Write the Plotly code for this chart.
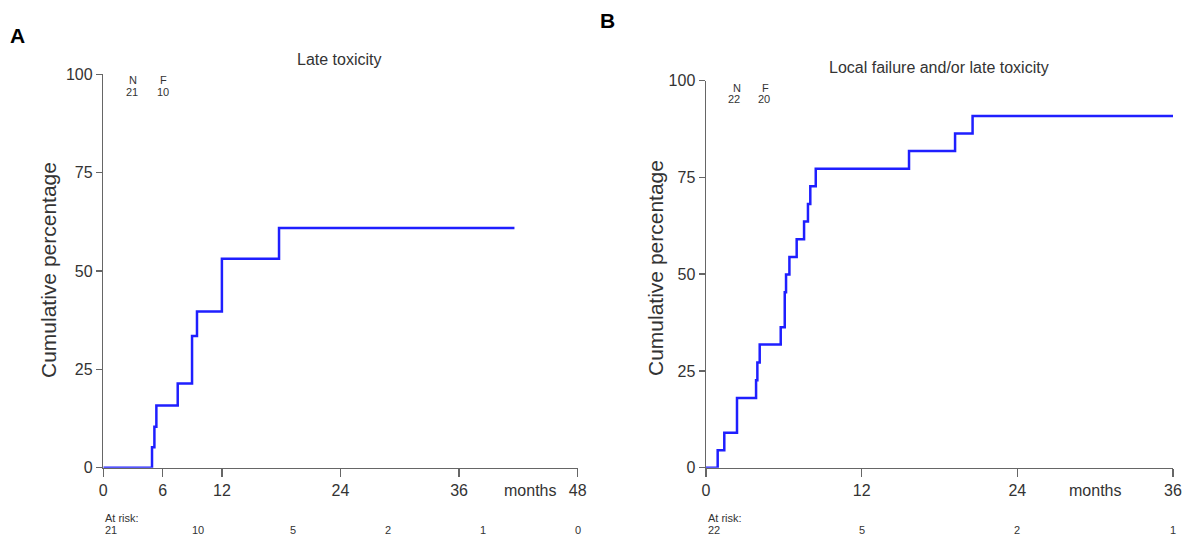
import plotly.graph_objects as go

# ---- Data ----
# Panel A: Late toxicity (months, cumulative %)
a_months = [0, 4.93, 5.17, 5.37, 7.53, 8.98, 9.48, 12.0, 17.78, 41.6]
a_pct = [0, 5.2, 10.4, 15.8, 21.4, 33.5, 39.7, 53.1, 60.9, 60.9]
a_ticks = [0, 6, 12, 24, 36, 48]
a_risk_t = [0, 9.6, 19.2, 28.8, 38.4, 48]
a_risk_n = ["21", "10", "5", "2", "1", "0"]

# Panel B: Local failure and/or late toxicity
b_months = [0, 0.90, 1.41, 2.39, 3.86, 3.96, 4.14, 5.76, 6.07, 6.17, 6.43, 6.99,
            7.56, 7.86, 8.04, 8.46, 15.65, 19.2, 20.55, 36.0]
b_pct = [0, 4.5, 9.0, 18.0, 22.6, 27.2, 31.8, 36.3, 45.3, 49.9, 54.4, 59.0,
         63.6, 68.1, 72.7, 77.2, 81.8, 86.3, 90.8, 90.8]
b_ticks = [0, 12, 24, 36]
b_risk_t = [0, 12, 24, 36]
b_risk_n = ["22", "5", "2", "1"]

y_ticks = [0, 25, 50, 75, 100]

W, H = 1183, 536
FONT = "Liberation Sans, Arial, sans-serif"
TXT = "#333333"
AX = "#666666"
BLUE = "#1f1fff"

def px(x):
    return x / W

def py(y):
    return 1 - y / H

fig = go.Figure()
fig.add_trace(go.Scatter(x=a_months, y=a_pct, mode="lines", line=dict(color=BLUE, width=2.5, shape="hv"),
                         xaxis="x", yaxis="y", showlegend=False, hoverinfo="skip"))
fig.add_trace(go.Scatter(x=b_months, y=b_pct, mode="lines", line=dict(color=BLUE, width=2.5, shape="hv"),
                         xaxis="x2", yaxis="y2", showlegend=False, hoverinfo="skip"))

axis_common = dict(showgrid=False, zeroline=False, showline=True, linecolor=AX, linewidth=1.5,
                   ticks="outside", tickcolor=AX, tickwidth=1.5, automargin=False,
                   tickfont=dict(family=FONT, size=16, color=TXT), fixedrange=True)

fig.update_layout(
    template="none",
    width=W, height=H, autosize=False,
    margin=dict(l=0, r=0, t=0, b=0, pad=0, autoexpand=False),
    paper_bgcolor="white", plot_bgcolor="white",
    xaxis=dict(domain=[px(103.3), px(577.7)], range=[0, 48], tickvals=a_ticks, ticklen=8,
               anchor="y", **axis_common),
    yaxis=dict(domain=[py(467.7), py(74.3)], range=[0, 100], tickvals=y_ticks, ticklen=6,
               anchor="x", **axis_common),
    xaxis2=dict(domain=[px(706), px(1173)], range=[0, 36], tickvals=b_ticks, ticklen=8,
                anchor="y2", **axis_common),
    yaxis2=dict(domain=[py(467.7), py(80.5)], range=[0, 100], tickvals=y_ticks, ticklen=6,
                anchor="x2", **axis_common),
)

ann = []

def add_text(text, x, y, size, xref="paper", yref="paper", xanchor="center", bold=False, angle=0):
    ann.append(dict(text=("<b>%s</b>" % text) if bold else text, x=x, y=y, xref=xref, yref=yref,
                    xanchor=xanchor, yanchor="middle", showarrow=False, textangle=angle,
                    font=dict(family=FONT, size=size, color="black" if bold else TXT)))

# Panel letters
add_text("A", px(17), py(35), 21, bold=True)
add_text("B", px(607), py(20), 21, bold=True)
# Titles
add_text("Late toxicity", px(339), py(60), 16)
add_text("Local failure and/or late toxicity", px(939), py(67), 16)
# Y titles
add_text("Cumulative percentage", px(48), py(270), 21, angle=-90)
add_text("Cumulative percentage", px(655), py(268), 21, angle=-90)
# months labels
add_text("months", 43.2, py(490), 16, xref="x")
add_text("months", 30.0, py(490), 16, xref="x2")
# N / F
add_text("N", px(133.3), py(80), 11)
add_text("21", px(131.7), py(91.7), 11)
add_text("F", px(163.3), py(80), 11)
add_text("10", px(162.7), py(91.7), 11)
add_text("N", px(736.7), py(88), 11)
add_text("22", px(734.3), py(99), 11)
add_text("F", px(765.7), py(88), 11)
add_text("20", px(764.3), py(99), 11)
# At risk
add_text("At risk:", 0, py(518), 11, xref="x", xanchor="left")
for i, (t, n) in enumerate(zip(a_risk_t, a_risk_n)):
    add_text(n, t, py(530), 11, xref="x", xanchor="left" if i == 0 else "center")
add_text("At risk:", 0, py(518), 11, xref="x2", xanchor="left")
for i, (t, n) in enumerate(zip(b_risk_t, b_risk_n)):
    add_text(n, t, py(530), 11, xref="x2", xanchor="left" if i == 0 else "center")

fig.update_layout(annotations=ann)
fig.write_html("out.html", config={"displayModeBar": False, "staticPlot": True},
               post_script="document.body.style.margin='0';document.body.style.overflow='hidden';")
